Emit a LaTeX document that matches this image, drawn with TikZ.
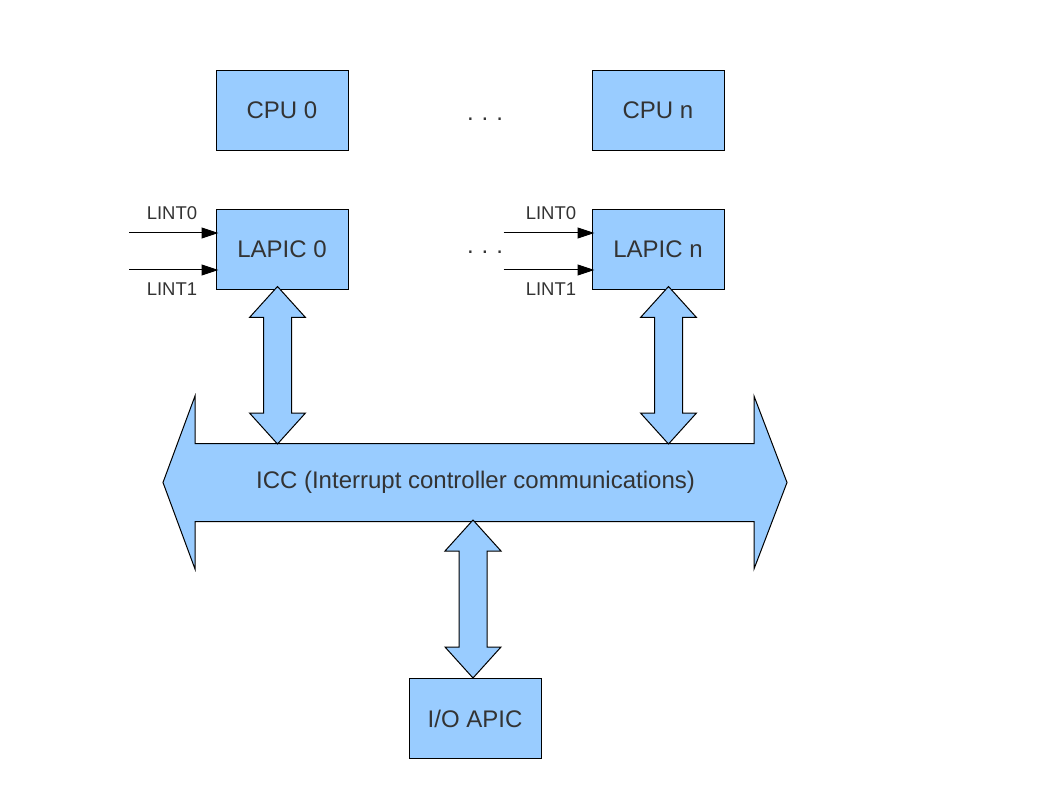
\documentclass[tikz,border=0pt]{standalone}
\usepackage{fontspec}
\setmainfont{Liberation Sans}
\usetikzlibrary{arrows.meta,calc}
\definecolor{boxblue}{HTML}{99CCFF}
\definecolor{txtgray}{HTML}{333333}
\newcommand\mydarrow[2]{%
  \draw[arrowshape] (#1) -- ($(#1)+(28,31)$) -- ($(#1)+(14,31)$) -- ($(#2)+(14,-31)$) -- ($(#2)+(28,-31)$) -- (#2)
    -- ($(#2)+(-28,-31)$) -- ($(#2)+(-14,-31)$) -- ($(#1)+(-14,31)$) -- ($(#1)+(-28,31)$) -- cycle;}
\begin{document}
\begin{tikzpicture}[x=1pt,y=-1pt,
  unitbox/.style={draw=black,line width=1pt,fill=boxblue,minimum width=132pt,minimum height=80pt,inner sep=0pt,text=txtgray,font=\fontsize{24}{28}\selectfont},
  arrowshape/.style={draw=black,line width=1pt,fill=boxblue,line join=miter},
  lintlabel/.style={text=txtgray,font=\fontsize{18.5}{22}\selectfont,inner sep=0pt},
  lintarrow/.style={draw=black,line width=1pt,-{Triangle[length=17pt,width=11pt]},shorten >=-3pt},
  dots/.style={text=txtgray,font=\fontsize{24}{28}\selectfont,inner sep=0pt,anchor=base}]
\useasboundingbox (0,0) rectangle (1058,794);
% boxes
\node[unitbox] (cpu0) at (282,110.5) {CPU 0};
\node[unitbox] (cpun) at (658,110.5) {CPU n};
\node[unitbox] (lapic0) at (282,249.5) {LAPIC 0};
\node[unitbox] (lapicn) at (658,249.5) {LAPIC n};
\node[unitbox] (ioapic) at (475,718.5) {I/O APIC};
% dots
\node[dots] (dots1) at (485,120.5) {.\,\,.\,\,.};
\node[dots] (dots2) at (485,253.5) {.\,\,.\,\,.};
% LINT inputs
\coordinate (l0a) at (129,233);
\coordinate (l1a) at (129,270);
\coordinate (n0a) at (503.5,233);
\coordinate (n1a) at (503.5,270);
\draw[lintarrow] (l0a) -- (l0a -| lapic0.west);
\draw[lintarrow] (l1a) -- (l1a -| lapic0.west);
\draw[lintarrow] (n0a) -- (n0a -| lapicn.west);
\draw[lintarrow] (n1a) -- (n1a -| lapicn.west);
\node[lintlabel] (lint0a) at (172,213) {LINT0};
\node[lintlabel] (lint1a) at (172,289.5) {LINT1};
\node[lintlabel] (lint0b) at (551,213) {LINT0};
\node[lintlabel] (lint1b) at (551,289.5) {LINT1};
% ICC bus
\coordinate (iccc) at (475,482.5);
\draw[arrowshape] ($(iccc)+(-312,0)$) -- ($(iccc)+(-280,-86.5)$) -- ($(iccc)+(-280,-39)$) -- ($(iccc)+(279,-39)$)
  -- ($(iccc)+(279,-86.5)$) -- ($(iccc)+(312,0)$) -- ($(iccc)+(279,86.5)$) -- ($(iccc)+(279,39)$)
  -- ($(iccc)+(-280,39)$) -- ($(iccc)+(-280,86.5)$) -- cycle;
\node[text=txtgray,font=\fontsize{24}{28}\selectfont,inner sep=0pt] (icc) at ($(iccc)+(0.5,0)$) {ICC (Interrupt controller communications)};
% vertical double arrows
\coordinate (t0) at ($(lapic0.south)+(-4.5,-3.5)$);
\coordinate (b0) at (t0 |- 0,444);
\coordinate (tn) at ($(lapicn.south)+(10.5,-3.5)$);
\coordinate (bn) at (tn |- 0,444);
\coordinate (ti) at (473,520);
\coordinate (bi) at ($(ioapic.north)+(-2,0)$);
\mydarrow{t0}{b0}
\mydarrow{tn}{bn}
\mydarrow{ti}{bi}
\end{tikzpicture}
\end{document}
